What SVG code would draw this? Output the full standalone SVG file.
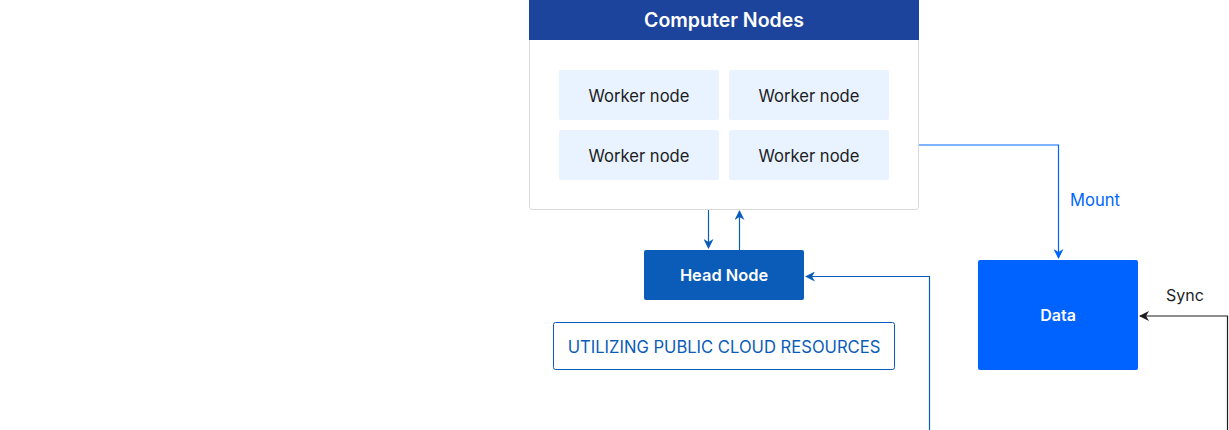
<svg xmlns="http://www.w3.org/2000/svg" width="1229" height="430" viewBox="0 0 1229 430">
<style>
text{font-family:Inter,"Noto Sans","Liberation Sans",sans-serif;}
.worker{fill:#e8f3ff;}
.wt{font-size:16.6px;fill:#1d1d1f;text-anchor:middle;}
.wh{font-size:16.4px;fill:#fff;font-weight:600;text-anchor:middle;}
.c{fill:none;stroke-width:1.2;}
</style>
<defs>
<marker id="ab" viewBox="0 0 10 10" refX="9" refY="5" markerWidth="10" markerHeight="10" markerUnits="userSpaceOnUse" orient="auto"><path d="M0,0 L10,5 L0,10 L3,5 Z" fill="#0a5cb8"/></marker>
<marker id="am" viewBox="0 0 10 10" refX="9" refY="5" markerWidth="10" markerHeight="10" markerUnits="userSpaceOnUse" orient="auto"><path d="M0,0 L10,5 L0,10 L3,5 Z" fill="#0066ff"/></marker>
<marker id="ak" viewBox="0 0 10 10" refX="9" refY="5" markerWidth="10" markerHeight="10" markerUnits="userSpaceOnUse" orient="auto"><path d="M0,0 L10,5 L0,10 L3,5 Z" fill="#1d1d1f"/></marker>
</defs>
<g id="computer-nodes">
<rect x="529.5" y="0.5" width="389" height="209" rx="3" fill="#fff" stroke="#d9d9d9"/>
<path d="M529,0 H919 V40 H529 Z" fill="#1c449c"/>
<text x="724" y="27" class="wh" style="font-size:19.5px">Computer Nodes</text>
</g>
<g id="worker-1"><rect class="worker" x="559" y="70" width="160" height="50" rx="2"/><text class="wt" x="639" y="102">Worker node</text></g>
<g id="worker-2"><rect class="worker" x="729" y="70" width="160" height="50" rx="2"/><text class="wt" x="809" y="102">Worker node</text></g>
<g id="worker-3"><rect class="worker" x="559" y="130" width="160" height="50" rx="2"/><text class="wt" x="639" y="162">Worker node</text></g>
<g id="worker-4"><rect class="worker" x="729" y="130" width="160" height="50" rx="2"/><text class="wt" x="809" y="162">Worker node</text></g>
<g id="head-node"><rect x="644" y="250" width="160" height="50" rx="2" fill="#0a5cb8"/><text class="wh" x="724" y="281">Head Node</text></g>
<g id="public-cloud"><rect x="553.5" y="322.5" width="341" height="47" rx="2" fill="#fff" stroke="#0a5cb8"/><text x="724" y="353" font-size="16.6" fill="#0a5cb8" text-anchor="middle">UTILIZING PUBLIC CLOUD RESOURCES</text></g>
<g id="data"><rect x="978" y="260" width="160" height="110" rx="2" fill="#0062ff"/><text class="wh" x="1058" y="321" style="font-size:16px">Data</text></g>
<g id="connectors">
<path class="c" d="M708.5,210 V248" stroke="#0a5cb8" marker-end="url(#ab)"/>
<path class="c" d="M739.5,250 V211" stroke="#0a5cb8" marker-end="url(#ab)"/>
<path class="c" d="M929.5,430 V276.5 H806" stroke="#0a5cb8" marker-end="url(#ab)"/>
<path class="c" d="M919,145 H1058.5 V258" stroke="#0066ff" marker-end="url(#am)"/>
<text x="1070" y="206" font-size="16.6" fill="#0066ff">Mount</text>
<path class="c" d="M1227.5,430 V316 H1140" stroke="#1d1d1f" marker-end="url(#ak)"/>
<text x="1166" y="301" font-size="16" fill="#1d1d1f">Sync</text>
</g>
</svg>
